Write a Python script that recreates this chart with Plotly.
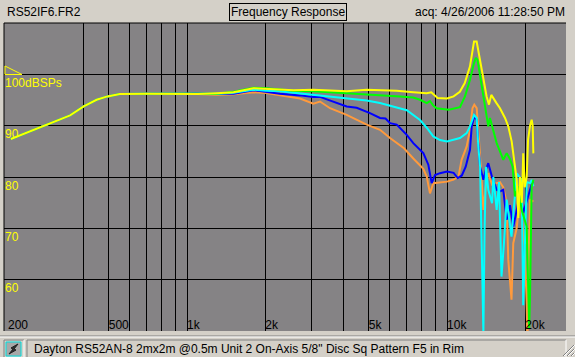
import math
import plotly.graph_objects as go

# ---------------- data ----------------
common_f = [210, 250, 297, 355, 399, 449, 494, 552, 700, 900, 1100]
common_db = [87.4, 88.9, 90.5, 92.0, 93.7, 95.05, 95.7, 96.15, 96.2, 96.2, 96.15]

yellow_f = common_f + [1300, 1510, 1800, 2020, 2277, 2570, 3060, 4112, 4909, 5523, 6404, 7418,
                       8350, 8700, 9200, 10000, 10600, 11200, 11700, 12250, 12700, 13000, 13400,
                       13800, 14200, 14500, 14800, 15500, 15980, 16712, 17208, 17732, 17984,
                       18534, 18800, 19080, 19400, 19640, 19900, 20250, 20500, 20860, 21160,
                       21350, 21480]
yellow_db = common_db + [96.3, 96.5, 97.3, 97.2, 97.0, 96.9, 97.0, 96.7, 97.0, 96.9, 96.8, 96.5,
                         96.3, 96.5, 95.4, 95.3, 95.7, 96.6, 98.3, 101.5, 106.4, 106.4, 102.85,
                         98.95, 95.7, 94.1, 96.0, 94.4, 93.4, 91.5, 89.85, 86.9, 84.65,
                         79.5, 72.0, 80.0, 75.0, 84.6, 78.0, 80.0, 87.3, 90.0, 91.15,
                         90.0, 84.6]

green_f = common_f + [1300, 1510, 1800, 2020, 2277, 2570, 3060, 4112, 4909, 5523, 6592, 7418,
                      7872, 8350, 8600, 8856, 9120, 10150, 11216, 11720, 12256, 12700, 12900,
                      13100, 13400, 13800, 14120, 14410, 14620, 15070, 15520, 15980, 16460,
                      16960, 17460, 17880, 18250, 18800, 19360, 20250, 20550, 20700, 20860,
                      21160, 21480]
green_db = common_db + [96.2, 96.6, 97.4, 97.3, 97.0, 96.8, 96.7, 96.35, 96.1, 96.0, 95.7, 95.5,
                        95.05, 94.4, 94.8, 93.9, 93.4, 93.1, 93.6, 95.7, 98.95, 102.2, 103.2,
                        102.8, 99.6, 95.7, 92.45, 89.85, 91.5, 89.2, 86.6, 85.0, 83.35,
                        84.65, 83.5, 82.0, 76.2, 78.15, 73.6, 70.35, 54.75, 50.5, 57.0,
                        78.15, 79.45]

cyan_f = common_f + [1300, 1510, 1800, 2020, 2277, 2570, 3060, 4112, 4909, 5523, 6000, 7000,
                     7872, 8354, 8856, 9396, 10000, 11216, 11900, 12256, 12700, 13006, 13191,
                     13400, 13650, 13800, 13950, 14120, 14410, 14900, 15070, 15520, 15850,
                     16200, 16550, 16960, 17700, 18550, 19360, 19640, 20250, 20860, 21160,
                     21480]
cyan_db = common_db + [96.2, 96.4, 97.0, 96.8, 96.7, 96.4, 96.0, 95.4, 94.9, 94.4, 93.9, 93.0,
                       91.1, 89.6, 87.9, 87.2, 86.9, 87.6, 88.55, 89.85, 92.1, 91.5, 85.95,
                       82.05, 62.0, 49.5, 70.0, 82.0, 77.5, 74.9, 80.0, 73.6, 79.0,
                       60.6, 67.0, 75.6, 68.4, 80.7, 79.45, 55.0, 79.0, 78.8, 79.45,
                       78.2]

blue_f = common_f + [1300, 1510, 1800, 2020, 2277, 2720, 3060, 3246, 3548, 4112, 4493, 5054,
                     5523, 5800, 6035, 6404, 6997, 7418, 8106, 8474, 8730, 8990, 9396, 10000,
                     10600, 11000, 11400, 11800, 12256, 12441, 12730, 13006, 13191, 13400,
                     13800, 14120, 14410, 14900, 15520, 15980, 16460, 16960, 17460, 17980,
                     18530, 19080, 19640, 20250, 20860, 21160, 21480]
blue_db = common_db + [96.2, 96.2, 96.9, 96.6, 96.2, 95.9, 95.6, 95.6, 94.9, 93.75, 93.5, 92.45,
                       91.5, 91.4, 90.5, 90.2, 88.2, 86.6, 84.65, 82.4, 78.8, 80.4, 80.75, 81.05,
                       80.8, 79.8, 80.3, 82.0, 85.3, 89.85, 91.8, 91.15, 86.6, 82.0,
                       79.45, 81.5, 82.7, 80.0, 77.5, 77.2, 77.5, 71.65, 74.5, 70.35,
                       73.5, 76.9, 73.0, 75.5, 77.5, 78.5, 79.1]

orange_f = common_f + [1300, 1510, 1800, 2020, 2277, 2570, 2720, 3060, 3246, 3548, 4112, 4909,
                       5523, 6035, 6830, 7418, 8106, 8354, 8600, 8856, 9396, 10000, 10600,
                       11070, 11380, 11900, 12256, 12530, 12730, 13006, 13191, 13400, 13600,
                       13800, 14120, 14410, 14900, 15520, 15980, 16460, 16960, 17200, 17700,
                       17980, 18530, 19080, 19900, 20250, 20400, 20550, 20860, 21480]
orange_db = common_db + [96.0, 96.1, 96.5, 96.35, 95.9, 95.4, 95.3, 94.3, 94.7, 93.4, 92.1, 90.2,
                         89.2, 87.6, 85.6, 83.6, 81.6, 80.1, 76.8, 78.8, 79.0, 79.1, 79.5,
                         80.1, 83.35, 85.95, 89.2, 93.4, 94.1, 93.4, 89.2, 84.65, 79.0,
                         73.6, 78.5, 80.75, 78.5, 78.8, 79.0, 78.0, 74.9, 63.9, 56.1,
                         67.1, 70.0, 76.0, 66.45, 54.75, 48.0, 62.0, 75.6, 75.2]

x_grid = [200, 300, 400, 500, 600, 700, 800, 900, 1000, 2000, 3000, 4000, 5000,
          6000, 7000, 8000, 9000, 10000, 20000]
x_labels = ["200", "", "", "500", "", "", "", "", "1k", "2k", "", "", "5k",
            "", "", "", "", "10k", "20k"]
y_grid = [60, 70, 80, 90, 100]
y_labels = ["60", "70", "80", "90", "100dBSPs"]

series = [
    ("orange", orange_f, orange_db, "#ff9a3c"),
    ("blue", blue_f, blue_db, "#0000ff"),
    ("cyan", cyan_f, cyan_db, "#00ffff"),
    ("green", green_f, green_db, "#00ff00"),
    ("yellow", yellow_f, yellow_db, "#ffff00"),
]

# ---------------- figure ----------------
W, H = 575, 357
L, R, T, B = 4, 9, 23, 26
PW, PH = W - L - R, H - T - B


def px(x):
    return (x - L) / PW


def py(y):
    return (H - B - y) / PH


fig = go.Figure()
for name, f, d, c in series:
    fig.add_trace(go.Scatter(x=f, y=d, mode="lines", name=name,
                             line=dict(color=c, width=2), hoverinfo="skip"))

FONT = "Liberation Sans"
fig.update_layout(
    width=W, height=H,
    margin=dict(l=L, r=R, t=T, b=B, pad=0),
    paper_bgcolor="#d4d0c8",
    plot_bgcolor="#858385",
    showlegend=False,
    font=dict(family=FONT, size=11, color="black"),
    xaxis=dict(type="log", range=[2.2960, 4.4576], tickmode="array",
               tickvals=x_grid, ticktext=x_labels, showgrid=True,
               gridcolor="black", gridwidth=1, ticks="", showline=False,
               zeroline=False, ticklabelposition="inside right", ticklabelstandoff=-6,
               tickfont=dict(family=FONT, size=12, color="black"), fixedrange=True),
    yaxis=dict(range=[50, 110], tickmode="array", tickvals=y_grid, ticktext=y_labels,
               showgrid=True, gridcolor="black", gridwidth=1, ticks="",
               showline=False, zeroline=False, ticklabelposition="inside bottom",
               ticklabelstandoff=-2,
               tickfont=dict(family=FONT, size=12, color="#ffff00"), fixedrange=True),
)

shapes = []
shapes.append(dict(type="line", xref="paper", yref="paper", x0=0, x1=1, y0=1, y1=1,
                   line=dict(color="black", width=1)))
shapes.append(dict(type="line", xref="paper", yref="paper", x0=0, x1=0, y0=0, y1=1,
                   line=dict(color="black", width=1)))
shapes.append(dict(type="path", xref="paper", yref="paper",
                   path=f"M {px(5)},{py(66)} L {px(5)},{py(74.5)} L {px(22)},{py(74.5)} Z",
                   line=dict(color="#ffff00", width=1)))
shapes.append(dict(type="line", xref="paper", yref="paper", x0=px(0), x1=px(575),
                   y0=py(336), y1=py(336), line=dict(color="#808080", width=1)))
shapes.append(dict(type="line", xref="paper", yref="paper", x0=px(0), x1=px(575),
                   y0=py(337), y1=py(337), line=dict(color="#ffffff", width=1)))
for x0, x1 in [(4, 24), (27, 566)]:
    shapes.append(dict(type="path", xref="paper", yref="paper",
                       path=f"M {px(x0)},{py(357)} L {px(x0)},{py(340)} L {px(x1)},{py(340)}",
                       line=dict(color="#808080", width=1)))
    shapes.append(dict(type="path", xref="paper", yref="paper",
                       path=f"M {px(x1)},{py(340)} L {px(x1)},{py(357)}",
                       line=dict(color="#ffffff", width=1)))
shapes.append(dict(type="rect", xref="paper", yref="paper", x0=px(6), x1=px(21),
                   y0=py(356), y1=py(342), line=dict(color="#00e0e0", width=1),
                   fillcolor="#a8a8a8"))
shapes.append(dict(type="path", xref="paper", yref="paper",
                   path=f"M {px(9)},{py(354)} L {px(13)},{py(349)} L {px(11)},{py(348)} "
                        f"L {px(18)},{py(344)} L {px(14)},{py(349)} L {px(16)},{py(350)} Z",
                   line=dict(color="#202020", width=1), fillcolor="#303030"))
for k in (3, 7, 11):
    shapes.append(dict(type="line", xref="paper", yref="paper",
                       x0=px(574 - k), y0=py(356), x1=px(574), y1=py(356 - k),
                       line=dict(color="#808080", width=1)))
    shapes.append(dict(type="line", xref="paper", yref="paper",
                       x0=px(575 - k), y0=py(356), x1=px(575), y1=py(356 - k),
                       line=dict(color="#ffffff", width=1)))
fig.update_layout(shapes=shapes)

annotations = [
    dict(text="RS52IF6.FR2", x=px(5), y=py(12), xanchor="left", yanchor="middle"),
    dict(text="Frequency Response", x=px(287.5), y=py(12), xanchor="center", yanchor="middle",
         bordercolor="black", borderwidth=1, borderpad=1),
    dict(text="acq: 4/26/2006 11:28:50 PM", x=px(567), y=py(12), xanchor="right",
         yanchor="middle"),
    dict(text="Dayton RS52AN-8 2mx2m @0.5m Unit 2 On-Axis 5/8\" Disc Sq Pattern F5 in Rim",
         x=px(32), y=py(349), xanchor="left", yanchor="middle"),
]
for a in annotations:
    a.update(xref="paper", yref="paper", showarrow=False,
             font=dict(family=FONT, size=12, color="black"))
# first x tick label (at the left plot edge) placed through the x axis scale
annotations.append(dict(text=x_labels[0], xref="x", yref="paper",
                        x=math.log10(x_grid[0]), y=py(325), xanchor="left", xshift=1,
                        yanchor="middle", showarrow=False,
                        font=dict(family=FONT, size=12, color="black")))
fig.update_layout(annotations=annotations)

fig.write_html("out.html", config={"displayModeBar": False},
               post_script="document.body.style.margin='0';"
                           "document.body.style.overflow='hidden';")
